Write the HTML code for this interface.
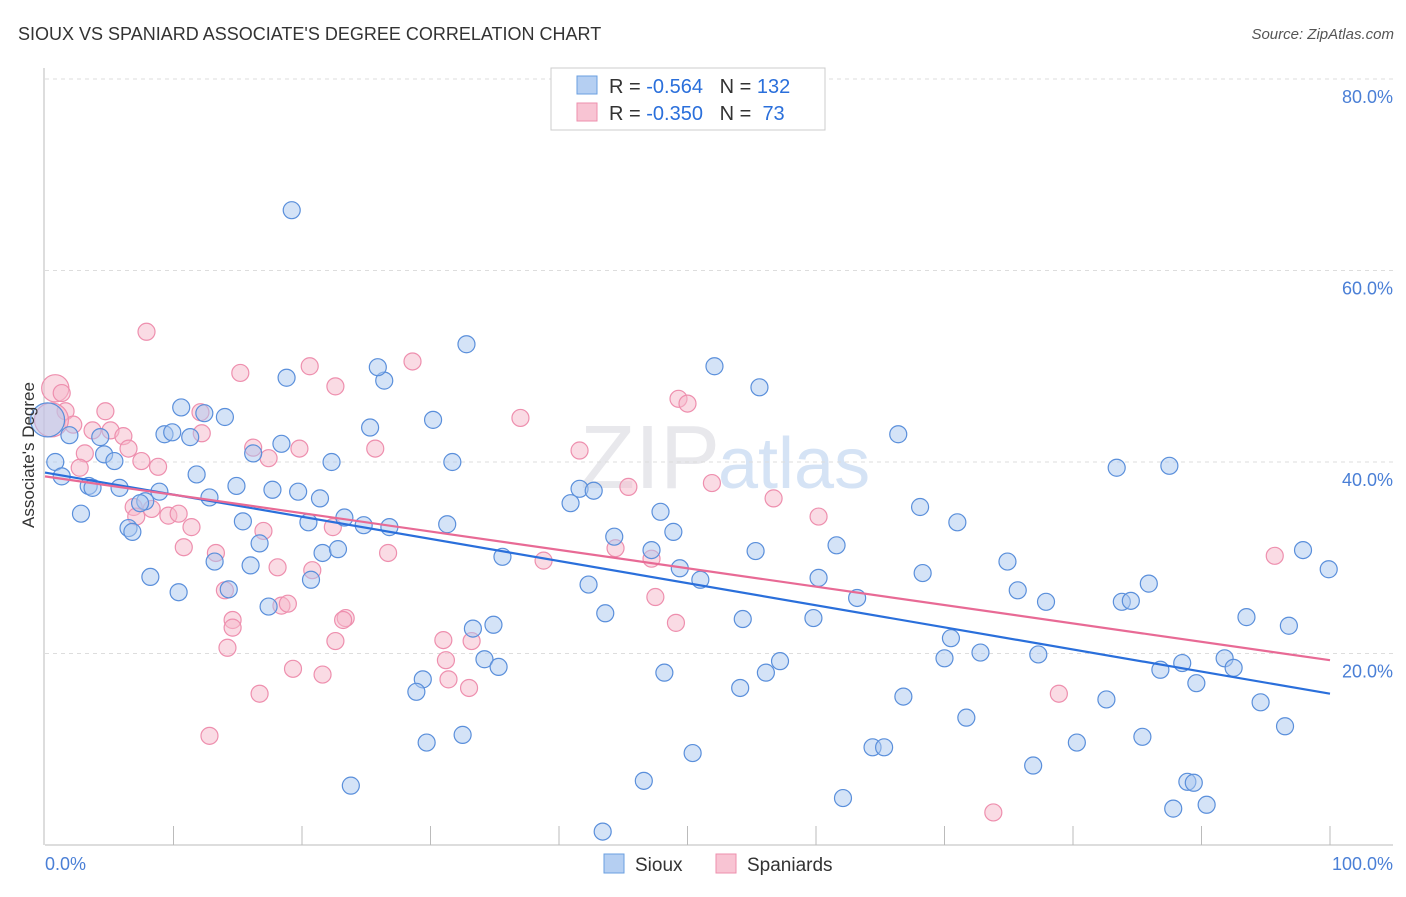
<!DOCTYPE html>
<html><head><meta charset="utf-8">
<style>
body{margin:0;background:#fff;font-family:"Liberation Sans",sans-serif;}
svg text{font-family:"Liberation Sans",sans-serif;}
</style></head>
<body>
<svg id="chart" width="1406" height="892" xmlns="http://www.w3.org/2000/svg">
<text x="18" y="40" font-size="18" fill="#333">SIOUX VS SPANIARD ASSOCIATE'S DEGREE CORRELATION CHART</text>
<text x="1394" y="39" font-size="15" fill="#555" font-style="italic" text-anchor="end">Source: ZipAtlas.com</text>
<text x="720" y="488" font-size="90" fill="#e8e8ec" text-anchor="end" font-family="Liberation Serif">ZIP</text>
<text x="718" y="488" font-size="72" fill="#d5e3f5">atlas</text>
<g id="grid"></g>
<g id="axes"></g>
<g id="pink"></g>
<g id="blue"></g>
<g id="lines"></g>
<text transform="translate(34,455) rotate(-90)" font-size="17" fill="#333" text-anchor="middle">Associate's Degree</text>
<text x="45" y="870" font-size="18" fill="#4a7fd6">0.0%</text>
<text x="1393" y="870" font-size="18" fill="#4a7fd6" text-anchor="end">100.0%</text>
<g>
<rect x="551" y="68" width="274" height="62" fill="#fff" stroke="#ccc"/>
<rect x="577" y="76" width="20" height="18" fill="#b5cff2" stroke="#6a9fe0"/>
<rect x="577" y="103" width="20" height="18" fill="#f8c4d3" stroke="#ee8fae"/>
<text x="609" y="93" font-size="20" fill="#333">R = <tspan fill="#2a6fdb">-0.564</tspan>&#160;&#160;&#160;N = <tspan fill="#2a6fdb">132</tspan></text>
<text x="609" y="120" font-size="20" fill="#333">R = <tspan fill="#2a6fdb">-0.350</tspan>&#160;&#160;&#160;N = &#160;<tspan fill="#2a6fdb">73</tspan></text>
</g>
<g>
<rect x="604" y="854" width="20" height="19" fill="#b5cff2" stroke="#6a9fe0"/>
<text x="635" y="871" font-size="19" fill="#333">Sioux</text>
<rect x="716" y="854" width="20" height="19" fill="#f8c4d3" stroke="#ee8fae"/>
<text x="747" y="871" font-size="19" fill="#333">Spaniards</text>
</g>
</svg>
<script>
const yTicks=[20,40,60,80];
const yTickLabels=["20.0%","40.0%","60.0%","80.0%"];
const xTicks=[10,20,30,40,50,60,70,80,90,100];
const siouxX=[19.2,32.8,52.1,55.6,18.8,26.4,25.9,10.6,12.4,14.0,30.2,25.3,66.4,1.9,4.3,9.3,9.9,11.3,16.2,18.4,4.6,5.4,0.8,1.3,11.8,22.3,31.7,83.4,87.5,3.4,3.7,5.8,8.9,14.9,17.7,19.7,12.8,21.4,7.8,7.4,2.8,6.5,6.8,15.4,20.5,23.3,24.8,26.8,31.3,41.6,42.7,40.9,47.9,68.1,71.0,16.7,13.2,16.0,21.6,22.8,35.6,44.3,47.2,48.9,55.3,61.6,97.9,99.9,8.2,10.4,14.3,20.7,42.3,49.4,51.0,60.2,63.2,68.3,74.9,75.7,77.9,83.8,84.5,85.9,93.5,96.8,17.4,43.6,54.3,59.8,33.3,34.9,70.5,72.8,77.3,70.0,57.2,56.1,48.2,34.2,35.3,29.4,28.9,54.1,66.8,86.8,88.5,91.8,92.5,89.6,94.6,82.6,71.7,96.5,32.5,29.7,80.3,85.4,64.4,65.3,50.4,76.9,88.9,89.4,46.6,23.8,62.1,90.4,87.8,43.4,0.2];
const siouxY=[66.3,52.3,50.0,47.8,48.8,48.5,49.9,45.7,45.1,44.7,44.4,43.6,42.9,42.8,42.6,42.9,43.1,42.6,40.9,41.9,40.8,40.1,40.0,38.5,38.7,40.0,40.0,39.4,39.6,37.5,37.3,37.3,36.9,37.5,37.1,36.9,36.3,36.2,35.9,35.7,34.6,33.1,32.7,33.8,33.7,34.2,33.4,33.2,33.5,37.2,37.0,35.7,34.8,35.3,33.7,31.5,29.6,29.2,30.5,30.9,30.1,32.2,30.8,32.7,30.7,31.3,30.8,28.8,28.0,26.4,26.7,27.7,27.2,28.9,27.7,27.9,25.8,28.4,29.6,26.6,25.4,25.4,25.5,27.3,23.8,22.9,24.9,24.2,23.6,23.7,22.6,23.0,21.6,20.1,19.9,19.5,19.2,18.0,18.0,19.4,18.6,17.3,16.0,16.4,15.5,18.3,19.0,19.5,18.5,16.9,14.9,15.2,13.3,12.4,11.5,10.7,10.7,11.3,10.2,10.2,9.6,8.3,6.6,6.5,6.7,6.2,4.9,4.2,3.8,1.4,44.4];
const siouxSize=[];siouxSize[siouxX.length-1]=2;
const spanX=[7.9,28.6,20.6,15.2,22.6,0.8,1.3,49.3,50.0,37.0,1.6,4.7,12.1,2.2,3.7,5.1,6.1,12.2,16.2,19.8,25.7,41.6,3.1,6.5,17.4,7.5,8.8,2.7,51.9,45.4,56.7,60.2,6.9,8.3,9.6,10.4,7.1,11.4,17.0,22.4,26.7,10.8,13.3,38.8,44.4,47.2,95.7,18.1,20.8,14.0,18.4,18.9,47.5,23.4,23.2,14.6,49.1,14.6,22.6,31.0,33.2,14.2,31.2,19.3,21.6,16.7,31.4,33.0,78.9,12.8,73.8,0.5];
const spanY=[53.6,50.5,50.0,49.3,47.9,47.7,47.2,46.6,46.1,44.6,45.3,45.3,45.2,43.9,43.3,43.3,42.7,43.0,41.5,41.4,41.4,41.2,40.9,41.4,40.4,40.1,39.5,39.4,37.8,37.4,36.2,34.3,35.3,35.1,34.4,34.6,34.3,33.2,32.8,33.2,30.5,31.1,30.5,29.7,31.0,29.9,30.2,29.0,28.7,26.6,25.0,25.2,25.9,23.7,23.5,23.5,23.2,22.7,21.3,21.4,21.3,20.6,19.3,18.4,17.8,15.8,17.3,16.4,15.8,11.4,3.4,44.4];
const spanSize=[];spanSize[5]=1.6;spanSize[spanX.length-1]=2;
const trendIntercept=[38.9,38.5];
const trendSlope=[-0.231,-0.192];
const NS="http://www.w3.org/2000/svg";
const xs=v=>45+v*12.85, ys=v=>845-v*9.575;
function mk(tag,attrs,parent){const e=document.createElementNS(NS,tag);for(const k in attrs)e.setAttribute(k,attrs[k]);parent.appendChild(e);return e;}
const grid=document.getElementById('grid'),axes=document.getElementById('axes');
yTicks.forEach((t,i)=>{
 const l=mk('line',{x1:45,x2:1393,y1:ys(t),y2:ys(t),stroke:'#ddd','stroke-dasharray':'4,4'},grid);
 
 
 const tx=mk('text',{x:1393,y:ys(t)+24,'font-size':18,fill:'#4a7fd6','text-anchor':'end'},grid);
 tx.textContent=yTickLabels[i];
 
 
});
let ax=mk('line',{x1:45,x2:1393,y1:845,y2:845,stroke:'#bbb'},axes);


let ay=mk('line',{x1:44,x2:44,y1:68,y2:845,stroke:'#bbb'},axes);


xTicks.forEach(t=>{
 const l=mk('line',{x1:xs(t),x2:xs(t),y1:826,y2:845,stroke:'#bbb'},axes);
 
 
});
function dots(X,Y,S,g,fill,stroke,name){
 X.forEach((x,i)=>{
  const c=mk('circle',{cx:xs(x),cy:ys(Y[i]),r:8.5*(S[i]||1),fill:fill,'fill-opacity':0.5,stroke:stroke,'stroke-width':1.2},g);
  
  
 });
}
dots(spanX,spanY,spanSize,document.getElementById('pink'),'#f5b8ca','#ee8fae','spaniards-point');
dots(siouxX,siouxY,siouxSize,document.getElementById('blue'),'#a9c8ef','#5a8fdb','sioux-point');
const lines=document.getElementById('lines');
const cols=['#2a6fdb','#e86a95'],names=['sioux-trend-line','spaniards-trend-line'];
trendIntercept.forEach((b,i)=>{
 const l=mk('line',{x1:xs(0),y1:ys(b),x2:xs(100),y2:ys(b+trendSlope[i]*100),stroke:cols[i],'stroke-width':2.2},lines);
 
 
});
</script>
</body></html>
